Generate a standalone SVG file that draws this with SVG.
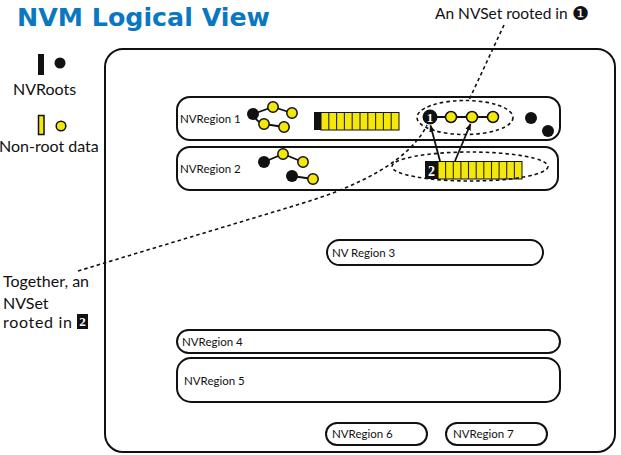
<svg xmlns="http://www.w3.org/2000/svg" width="621" height="455" viewBox="0 0 621 455">
<defs>
<style>
.t{font-family:Lato,"Open Sans","DejaVu Sans",sans-serif;fill:#111}
.big{font-size:16px}
.lab{font-size:11.5px}
.reg{fill:#fff;stroke:#111;stroke-width:2}
.y{fill:#f4e70a;stroke:#111;stroke-width:1.5}
.k{fill:#111}
.edge{stroke:#111;stroke-width:1.8;fill:none}
.dash{stroke:#111;stroke-width:1.6;fill:none;stroke-dasharray:3.5 3}
.div{stroke:#2a2700;stroke-width:1.1}
.num{font-family:"Liberation Serif","DejaVu Serif",serif;font-weight:bold;fill:#fff}
</style>
<marker id="ah" viewBox="0 0 10 10" refX="9" refY="5" markerWidth="7" markerHeight="7" orient="auto-start-reverse" markerUnits="userSpaceOnUse">
<path d="M0,1 L10,5 L0,9 Z" fill="#111"/>
</marker>
</defs>
<rect width="621" height="455" fill="#fff"/>

<text x="17" y="26" font-family="'DejaVu Sans',Verdana,sans-serif" font-weight="bold" font-size="25" fill="#0a78c0" textLength="253" lengthAdjust="spacingAndGlyphs">NVM Logical View</text>

<g id="legend">
<rect x="38" y="54" width="6" height="21" class="k"/>
<circle cx="60" cy="63" r="5.5" class="k"/>
<text x="13" y="95" class="t big">NVRoots</text>
<rect x="38.5" y="115.5" width="5.5" height="19" class="y"/>
<circle cx="61" cy="126" r="4.8" class="y"/>
<text x="-1" y="152" class="t big">Non-root data</text>
</g>

<g id="container">
<rect x="105" y="49" width="510" height="403" rx="18" class="reg"/>
</g>

<g id="region1">
<rect x="177" y="97" width="383" height="43" rx="13" class="reg"/>
<text x="180" y="123" class="t lab">NVRegion 1</text>
<path d="M253,114 L273,107 L292,113 M253,114 Q256,122 264,124 L284,127" class="edge"/>
<circle cx="253" cy="114" r="6" class="k"/>
<circle cx="273" cy="107" r="5.2" class="y"/>
<circle cx="292" cy="113" r="5.2" class="y"/>
<circle cx="264" cy="124" r="5.2" class="y"/>
<circle cx="284" cy="127" r="5.2" class="y"/>
<rect x="314" y="112" width="7" height="18" class="k"/>
<rect x="321" y="112.5" width="78" height="17.5" fill="#f4e70a" stroke="#111" stroke-width="1"/>
<path d="M328.8,112.5V130M336.6,112.5V130M344.4,112.5V130M352.2,112.5V130M360,112.5V130M367.8,112.5V130M375.6,112.5V130M383.4,112.5V130M391.2,112.5V130" class="div"/>
<circle cx="531" cy="118" r="6" class="k"/>
<circle cx="548" cy="131" r="6" class="k"/>
</g>

<g id="nvset1">
<path d="M430,117 L493,117" class="edge"/>
<circle cx="430" cy="117" r="7.5" class="k"/>
<text x="430" y="122" text-anchor="middle" class="num" font-size="13">1</text>
<circle cx="451" cy="117" r="5.5" class="y"/>
<circle cx="472" cy="117" r="5.5" class="y"/>
<circle cx="493" cy="117" r="5.5" class="y"/>
<ellipse cx="465" cy="117.5" rx="48" ry="17" class="dash"/>
</g>

<g id="region2">
<rect x="177" y="147" width="381" height="43" rx="13" class="reg"/>
<text x="180" y="173" class="t lab">NVRegion 2</text>
<path d="M264,162 L283,154 L303,162 M292,176 L313,179" class="edge"/>
<circle cx="264" cy="162" r="6" class="k"/>
<circle cx="283" cy="154" r="5.2" class="y"/>
<circle cx="303" cy="162" r="5.2" class="y"/>
<circle cx="292" cy="176" r="6" class="k"/>
<circle cx="313" cy="179" r="5.2" class="y"/>
</g>

<g id="nvset2">
<rect x="425" y="161" width="13" height="18" class="k"/>
<text x="431.5" y="176" text-anchor="middle" class="num" font-size="14">2</text>
<rect x="438" y="161.5" width="84" height="17.5" fill="#f4e70a" stroke="#111" stroke-width="1"/>
<path d="M445.6,161.5V179M453.3,161.5V179M460.9,161.5V179M468.5,161.5V179M476.2,161.5V179M483.8,161.5V179M491.5,161.5V179M499.1,161.5V179M506.7,161.5V179M514.4,161.5V179" class="div"/>
<ellipse cx="470" cy="166.5" rx="78" ry="14.5" class="dash"/>
</g>

<g id="region3">
<rect x="327" y="240" width="216" height="25" rx="12.5" class="reg"/>
<text x="332" y="257" class="t lab">NV Region 3</text>
</g>
<g id="region4">
<rect x="177" y="330" width="383" height="23" rx="11.5" class="reg"/>
<text x="182" y="346" class="t lab">NVRegion 4</text>
</g>
<g id="region5">
<rect x="177" y="358" width="383" height="44" rx="14" class="reg"/>
<text x="184" y="385" class="t lab">NVRegion 5</text>
</g>
<g id="region6">
<rect x="326" y="423" width="101" height="22" rx="11" class="reg"/>
<text x="332" y="438" class="t lab">NVRegion 6</text>
</g>
<g id="region7">
<rect x="446" y="423" width="101" height="22" rx="11" class="reg"/>
<text x="453" y="438" class="t lab">NVRegion 7</text>
</g>

<g id="annotations">
<text x="435" y="19" class="t" font-size="15.5">An NVSet rooted in <tspan font-family="'DejaVu Sans',sans-serif" font-size="19" dy="1">❶</tspan></text>
<text class="t big"><tspan x="3" y="287">Together, an</tspan><tspan x="3" y="309">NVSet</tspan><tspan x="3" y="328" textLength="69" lengthAdjust="spacing">rooted in</tspan></text>
<rect x="77" y="314" width="11" height="15" class="k"/>
<text x="82.5" y="326" text-anchor="middle" class="num" font-size="13">2</text>
</g>

<g id="connectors">
<path d="M504,25 L469,100" class="dash"/>
<path d="M78,271 L300,204 C360,186 410,160 427,125" class="dash"/>
<path d="M440,161 L430.5,125.5" class="edge" marker-end="url(#ah)"/>
<path d="M455,161 L470.5,124" class="edge" marker-end="url(#ah)"/>
</g>
</svg>
